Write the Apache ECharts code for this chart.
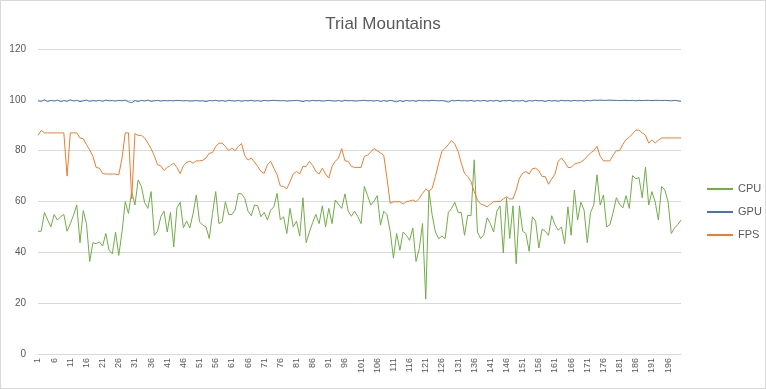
<!DOCTYPE html>
<html>
<head>
<meta charset="utf-8">
<script src="https://cdn.jsdelivr.net/npm/echarts@6/dist/echarts.min.js"></script>
<style>
html,body{margin:0;padding:0;background:#fff;}
#c{width:766px;height:389px;box-sizing:border-box;border:1px solid #d9d9d9;}
</style>
</head>
<body>
<div id="c"></div>
<script>
var title = "Trial Mountains";
var seriesNames = ["CPU", "GPU", "FPS"];
var yTicks = [0, 20, 40, 60, 80, 100, 120];
var categories = [];
for (var k = 1; k <= 200; k++) categories.push(String(k));

var cpu = [
48.3,48.3,55.7,52.7,50.0,54.9,52.7,54.0,54.9,48.3,
51.3,54.6,58.6,43.8,56.4,51.3,36.4,43.8,43.4,44.1,
42.5,47.4,40.8,39.4,48.0,38.8,48.0,59.9,55.3,63.9,
58.6,68.5,65.9,59.6,57.3,63.9,46.7,48.3,54.0,56.2,
48.0,55.7,42.1,57.5,59.7,49.7,52.3,49.6,55.3,62.6,
52.0,50.7,50.0,45.4,55.3,63.9,51.3,52.0,59.9,54.9,
54.9,56.6,63.2,63.0,61.2,56.2,54.4,58.6,58.3,54.0,
55.7,52.7,56.6,57.9,63.2,52.7,54.0,47.4,57.3,50.0,
52.3,46.4,61.5,43.8,48.0,51.7,54.9,51.3,58.3,50.0,
57.3,51.3,60.6,58.9,57.3,63.0,56.2,54.2,56.2,54.0,
51.3,65.9,62.3,58.6,60.2,62.3,50.7,56.2,54.9,48.3,
37.7,47.4,40.8,48.0,46.7,44.7,49.6,36.4,41.4,51.3,
21.6,64.1,54.6,48.0,45.4,46.4,45.4,55.7,57.3,59.7,
55.7,55.7,46.7,54.6,54.4,76.4,48.0,45.4,47.0,53.6,
51.3,48.0,56.2,58.3,39.8,61.5,45.4,58.3,35.5,58.3,
48.3,47.4,40.4,54.0,52.3,41.7,49.1,48.3,46.7,54.4,
50.9,48.7,50.0,43.4,57.9,46.7,64.5,52.7,59.7,56.6,
43.8,55.7,58.6,70.5,58.6,62.6,50.0,50.9,55.7,61.5,
58.9,57.5,62.3,57.3,70.2,68.9,69.4,61.5,73.5,58.6,
63.9,59.9,52.7,65.9,64.5,59.9,47.4,49.6,50.9,52.7
];

var gpu = [
99.6,99.4,100,99.3,99.8,99.5,99.9,99.3,99.7,99.4,
100,99.5,99.8,99.3,99.6,99.9,99.4,99.7,99.5,99.8,
99.4,99.9,99.6,99.7,99.5,99.8,99.6,99.9,99.2,98.9,
99.7,99.3,99.8,99.5,99.9,99.4,99.6,99.8,99.5,99.7,
99.6,99.7,99.6,99.8,99.7,99.6,99.7,99.5,99.6,99.7,
99.5,99.6,99.3,99.7,99.6,99.8,99.5,99.7,99.4,99.8,
99.6,99.5,99.8,99.4,99.7,99.6,99.8,99.5,99.7,99.4,
99.8,99.6,99.7,99.8,99.7,99.6,99.7,99.5,99.6,99.7,
99.8,99.6,99.3,99.7,99.5,99.8,99.6,99.7,99.5,99.6,
99.8,99.6,99.5,99.7,99.4,99.8,99.6,99.7,99.5,99.6,
99.7,99.8,99.6,99.7,99.5,99.8,99.3,99.7,99.4,99.8,
99.5,99.2,99.7,99.3,99.8,99.5,99.7,99.4,99.8,99.6,
99.7,99.6,99.8,99.7,99.6,99.7,99.5,99.1,99.7,99.6,
99.8,99.6,99.7,99.5,99.8,99.4,99.7,99.5,99.8,99.4,
99.7,99.5,99.8,99.3,99.7,99.6,99.8,99.4,99.7,99.5,
99.8,99.2,99.7,99.5,99.8,99.6,99.7,99.3,99.8,99.5,
99.7,99.4,99.8,99.6,99.7,99.5,99.8,99.6,99.7,99.5,
99.8,99.6,99.9,99.8,99.9,99.8,99.8,99.9,99.8,99.8,
99.7,99.8,99.8,99.7,99.8,99.6,99.8,99.7,99.8,99.8,
99.7,99.8,99.8,99.7,99.8,99.7,99.6,99.8,99.6,99.4
];

var fps = [
86,88,87,87,87,87,87,87,87,70,
87,87,87,85,84.7,82.4,80.3,77.8,73.4,73.1,
71,70.8,70.8,70.8,70.8,70.5,77,87,87,61,
86.7,86,86,85,83,80.8,78,74.5,74,72.2,
73.4,74.2,75.1,73.4,71,74,75.4,75.8,75.1,76,
76,76.2,77.1,79,79.2,81.7,82.9,83,81.6,80,
81,80,81.7,82.8,78,76.3,77.1,75.5,73.8,71.8,
71.1,74.5,75.8,73.1,70.5,66.1,65.9,65,67.8,70.8,
71.8,70.9,73.8,73.8,75.8,74.2,71.8,70.8,73.1,70.8,
69.2,73.8,75.8,77.1,80.8,76,75.8,73.8,73.4,73.4,
73.4,77.8,78.2,79.5,80.8,80,79.1,78.2,69.2,59.3,
59.9,59.9,59.9,59,59.9,60.2,60.6,59.9,61.2,63.2,
64.8,64.1,65.2,69.8,75.1,79.7,81,82.4,84,82.6,
79.7,75.1,71.1,69.8,67.8,63.9,60.6,59,58.6,57.9,
58.9,59.9,60,60,61,61.9,61,61,64.5,69.2,
71.1,71.8,70.8,72.9,73.1,72.1,69.8,69.8,66.8,68.9,
70.8,75.8,77.1,75.5,73.4,73.4,74.7,75.1,75.5,76.4,
77.8,79.1,80,81.7,77.8,76,76,76,78.2,80,
80,82.4,84.4,85.3,86.6,88.1,88.1,87,86.1,83,
84.2,83,84.1,85,85,85,85,85,85,85
];

var colors = ["#70AD47", "#4472C4", "#ED7D31"];
var fontFam = "'Liberation Sans', Arial, sans-serif";

var chart = echarts.init(document.getElementById('c'), null, {renderer: 'canvas'});
chart.setOption({
  animation: false,
  title: {
    text: title, left: 'center', top: 10,
    textStyle: {fontFamily: fontFam, fontSize: 17, fontWeight: 'normal', color: '#595959'}
  },
  legend: {
    orient: 'vertical', left: 701, top: 177,
    icon: 'rect', itemWidth: 26, itemHeight: 2, itemGap: 11,
    data: seriesNames,
    textStyle: {fontFamily: fontFam, fontSize: 11, color: '#595959', lineHeight: 12}
  },
  grid: {left: 37, right: 84, top: 48, bottom: 34, containLabel: false},
  xAxis: {
    type: 'category', data: categories, boundaryGap: false,
    axisLine: {show: true, lineStyle: {color: '#d9d9d9'}},
    axisTick: {show: false},
    axisLabel: {interval: 4, rotate: 90, fontFamily: fontFam, fontSize: 9, color: '#595959', margin: 4}
  },
  yAxis: {
    type: 'value', min: yTicks[0], max: yTicks[yTicks.length - 1], interval: 20,
    axisLine: {show: false}, axisTick: {show: false},
    splitLine: {lineStyle: {color: '#d9d9d9'}},
    axisLabel: {fontFamily: fontFam, fontSize: 10, color: '#595959', margin: 12}
  },
  series: [
    {name: seriesNames[0], type: 'line', data: cpu, symbol: 'none', lineStyle: {width: 1, color: colors[0]}, itemStyle: {color: colors[0]}},
    {name: seriesNames[1], type: 'line', data: gpu, symbol: 'none', lineStyle: {width: 1, color: colors[1]}, itemStyle: {color: colors[1]}},
    {name: seriesNames[2], type: 'line', data: fps, symbol: 'none', lineStyle: {width: 1, color: colors[2]}, itemStyle: {color: colors[2]}}
  ]
});
</script>
</body>
</html>
